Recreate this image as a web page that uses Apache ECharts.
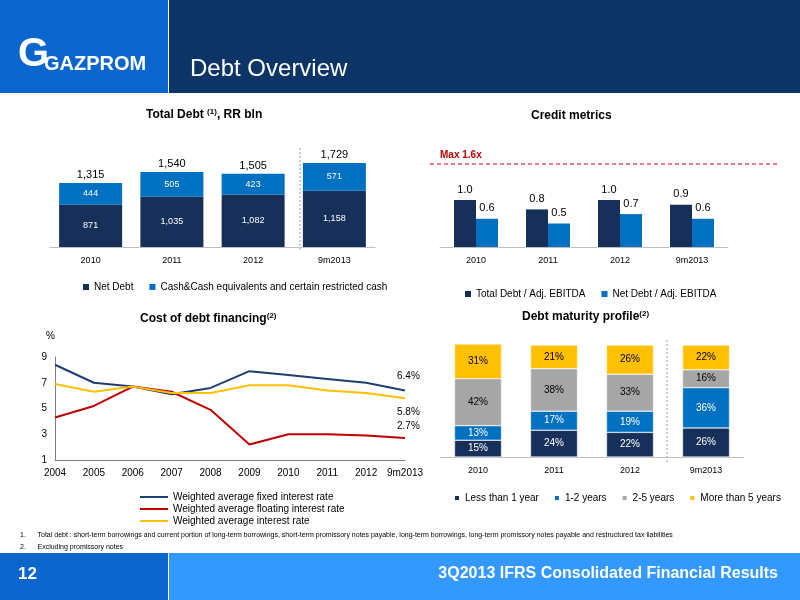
<!DOCTYPE html>
<html><head><meta charset="utf-8">
<script src="https://cdn.jsdelivr.net/npm/echarts@6/dist/echarts.min.js"></script>
<style>html,body{margin:0;padding:0;background:#fff}#c{width:800px;height:600px}</style>
</head><body><div id="c"></div>
<script>
const debtCats = ['2010','2011','2012','9m2013'];
const netDebt = [871,1035,1082,1158];
const cashEq = [444,505,423,571];
const totalDebt = ['1,315','1,540','1,505','1,729'];
const metricCats = ['2010','2011','2012','9m2013'];
const totalDebtEbitda = [1.0,0.8,1.0,0.9];
const netDebtEbitda = [0.6,0.5,0.7,0.6];
const rateYears = ['2004','2005','2006','2007','2008','2009','2010','2011','2012','9m2013'];
const fixedRate = [8.4,7.0,6.7,6.1,6.6,7.9,7.6,7.3,7.0,6.4];
const floatRate = [4.3,5.2,6.7,6.3,4.9,2.2,3.0,3.0,2.9,2.7];
const avgRate = [6.9,6.3,6.7,6.2,6.2,6.8,6.8,6.4,6.2,5.8];
const matCats = ['2010','2011','2012','9m2013'];
const lessThan1 = [15,24,22,26];
const oneTwo = [13,17,19,36];
const twoFive = [42,38,33,16];
const moreFive = [31,21,26,22];

const DARK='#16305a', BLUE='#0070c0', GRAY='#a6a6a6', YEL='#ffc000', RED='#c00000';
const F='Liberation Sans, Arial, sans-serif';
const chart = echarts.init(document.getElementById('c'));
const axisLbl={color:'#000',fontSize:9,fontFamily:F};
const catAxis=(gi,data,extra)=>Object.assign({type:'category',gridIndex:gi,data:data,axisTick:{show:false},axisLine:{lineStyle:{color:'#bfbfbf'}},axisLabel:Object.assign({margin:9},axisLbl)},extra||{});
const valAxis=(gi,extra)=>Object.assign({type:'value',gridIndex:gi,show:false,splitLine:{show:false}},extra||{});
const title=(x,y,main,sup,tail)=>({type:'text',left:x,top:y,style:{text:main+(sup?'{s|'+sup+'}':'')+(tail||''),font:'bold 12px '+F,fill:'#000',rich:{s:{fontSize:8,fontWeight:'bold',verticalAlign:'top',padding:[0,0,6,0]}}}});
const line=(x1,y1,x2,y2,c,dash,w)=>({type:'line',shape:{x1,y1,x2,y2},style:{stroke:c,lineWidth:w||1,lineDash:dash||null}});
const sq={itemWidth:6,itemHeight:6,icon:'rect',textStyle:{fontSize:10,fontFamily:F,color:'#000'},itemGap:16};

chart.setOption({
  animation:false,
  grid:[
    {left:50,top:140,width:325,height:107},
    {left:440,top:153,width:288,height:94},
    {left:55,top:357,width:350,height:103},
    {left:440,top:344,width:304,height:113}
  ],
  xAxis:[
    catAxis(0,debtCats),
    catAxis(1,metricCats),
    {type:'category',gridIndex:2,data:rateYears,boundaryGap:false,axisTick:{show:false},axisLine:{lineStyle:{color:'#808080'}},axisLabel:Object.assign({margin:8,interval:0},axisLbl,{fontSize:10})},
    catAxis(3,matCats)
  ],
  yAxis:[
    valAxis(0,{min:0,max:2200}),
    valAxis(1,{min:0,max:2}),
    {type:'value',gridIndex:2,min:1,max:9,interval:2,splitLine:{show:false},axisTick:{show:false},axisLine:{show:true,lineStyle:{color:'#808080'}},axisLabel:Object.assign({margin:8},axisLbl,{fontSize:10})},
    valAxis(3,{min:0,max:101})
  ],
  legend:[
    Object.assign({left:78,top:277,data:['Net Debt','Cash&Cash equivalents and certain restricted cash']},sq),
    Object.assign({left:460,top:284,data:['Total Debt / Adj. EBITDA','Net Debt / Adj. EBITDA']},sq),
    {left:135,top:487,orient:'vertical',itemGap:2,itemWidth:28,itemHeight:2,textStyle:{fontSize:10,fontFamily:F,color:'#000'},data:[{name:'Weighted average fixed interest rate',icon:'rect'},{name:'Weighted average floating interest rate',icon:'rect'},{name:'Weighted average interest rate',icon:'rect'}]},
    Object.assign({left:448,top:488,width:352,data:['Less than 1 year','1-2 years','2-5 years','More than 5 years']},sq,{itemGap:14})
  ],
  series:[
    {name:'Net Debt',type:'bar',xAxisIndex:0,yAxisIndex:0,stack:'d',barWidth:63,data:netDebt,itemStyle:{color:DARK},label:{show:true,color:'#fff',fontSize:9,fontFamily:F,formatter:p=>p.value.toLocaleString('en-US')}},
    {name:'Cash&Cash equivalents and certain restricted cash',type:'bar',xAxisIndex:0,yAxisIndex:0,stack:'d',barWidth:63,data:cashEq,itemStyle:{color:BLUE},
      label:{show:true,color:'#fff',fontSize:9,fontFamily:F,formatter:'{c}'},
      markPoint:{symbol:'rect',symbolSize:1,itemStyle:{color:'transparent'},label:{show:true,color:'#000',fontSize:11,fontFamily:F,position:'top',distance:2},
        data:debtCats.map((c,i)=>({coord:[i,netDebt[i]+cashEq[i]],value:totalDebt[i],label:{formatter:totalDebt[i]}}))}},
    {name:'Total Debt / Adj. EBITDA',type:'bar',xAxisIndex:1,yAxisIndex:1,barWidth:22,barGap:'0%',data:totalDebtEbitda,itemStyle:{color:DARK},label:{show:true,position:'top',fontSize:11,fontFamily:F,color:'#000',formatter:p=>p.value.toFixed(1)}},
    {name:'Net Debt / Adj. EBITDA',type:'bar',xAxisIndex:1,yAxisIndex:1,barWidth:22,data:netDebtEbitda,itemStyle:{color:BLUE},label:{show:true,position:'top',fontSize:11,fontFamily:F,color:'#000',formatter:p=>p.value.toFixed(1)}},
    {name:'Weighted average fixed interest rate',type:'line',xAxisIndex:2,yAxisIndex:2,data:fixedRate,symbol:'none',lineStyle:{color:'#1f3e73',width:2},itemStyle:{color:'#1f3e73'},
      endLabel:{show:true,formatter:p=>p.value.toFixed(1)+'%',fontSize:10,fontFamily:F,color:'#000',offset:[-16,-14]}},
    {name:'Weighted average floating interest rate',type:'line',xAxisIndex:2,yAxisIndex:2,data:floatRate,symbol:'none',lineStyle:{color:RED,width:2},itemStyle:{color:RED},
      endLabel:{show:true,formatter:p=>p.value.toFixed(1)+'%',fontSize:10,fontFamily:F,color:'#000',offset:[-16,-12]}},
    {name:'Weighted average interest rate',type:'line',xAxisIndex:2,yAxisIndex:2,data:avgRate,symbol:'none',lineStyle:{color:YEL,width:2},itemStyle:{color:YEL},
      endLabel:{show:true,formatter:p=>p.value.toFixed(1)+'%',fontSize:10,fontFamily:F,color:'#000',offset:[-16,14]}},
    ...[['Less than 1 year',lessThan1,DARK,'#fff'],['1-2 years',oneTwo,BLUE,'#fff'],['2-5 years',twoFive,GRAY,'#000'],['More than 5 years',moreFive,YEL,'#000']].map(([n,d,c,lc])=>({
      name:n,type:'bar',xAxisIndex:3,yAxisIndex:3,stack:'m',barWidth:47,data:d,itemStyle:{color:c,borderColor:'#fff',borderWidth:0.5},
      label:{show:true,color:lc,fontSize:10,fontFamily:F,formatter:'{c}%'}}))
  ],
  graphic:[
    {type:'rect',shape:{x:0,y:0,width:168,height:93},style:{fill:'#0a66cc'}},
    {type:'rect',shape:{x:169,y:0,width:631,height:93},style:{fill:'#0d3466'}},
    {type:'text',left:18,top:35,style:{text:'G',font:'bold 40px '+F,fill:'#fff'}},
    {type:'text',left:44,top:54,style:{text:'GAZPROM',font:'bold 20px "Liberation Sans Narrow", '+F,fill:'#fff'}},
    {type:'text',left:190,top:57,style:{text:'Debt Overview',font:'24px '+F,fill:'#fff'}},
    title(146,108,'Total Debt ','(1)',', RR bln'),
    title(531,110,'Credit metrics'),
    title(140,312,'Cost of debt financing','(2)'),
    title(522,310,'Debt maturity profile','(2)'),
    {type:'text',left:46,top:331,style:{text:'%',font:'10px '+F,fill:'#000'}},
    {type:'text',left:440,top:150,style:{text:'Max 1.6x',font:'bold 10px '+F,fill:RED}},
    line(430,164,778,164,RED,[4,3],1),
    line(300,148,300,252,'#999',[2,2],1),
    line(667,340,667,462,'#999',[2,2],1),
    {type:'text',left:20,top:532,style:{text:'1.      Total debt : short-term borrowings and current portion of long-term borrowings, short-term promissory notes payable, long-term borrowings, long-term promissory notes payable and restructured tax liabilities',font:'7px '+F,fill:'#000'}},
    {type:'text',left:20,top:544,style:{text:'2.      Excluding promissory notes',font:'7px '+F,fill:'#000'}},
    {type:'rect',shape:{x:0,y:553,width:168,height:47},style:{fill:'#0a66cc'}},
    {type:'rect',shape:{x:169,y:553,width:631,height:47},style:{fill:'#3399ff'}},
    {type:'text',left:18,top:566,style:{text:'12',font:'bold 17px '+F,fill:'#fff'}},
    {type:'text',right:22,top:566,style:{text:'3Q2013 IFRS Consolidated Financial Results',font:'bold 16px '+F,fill:'#fff'}}
  ]
});
</script></body></html>
